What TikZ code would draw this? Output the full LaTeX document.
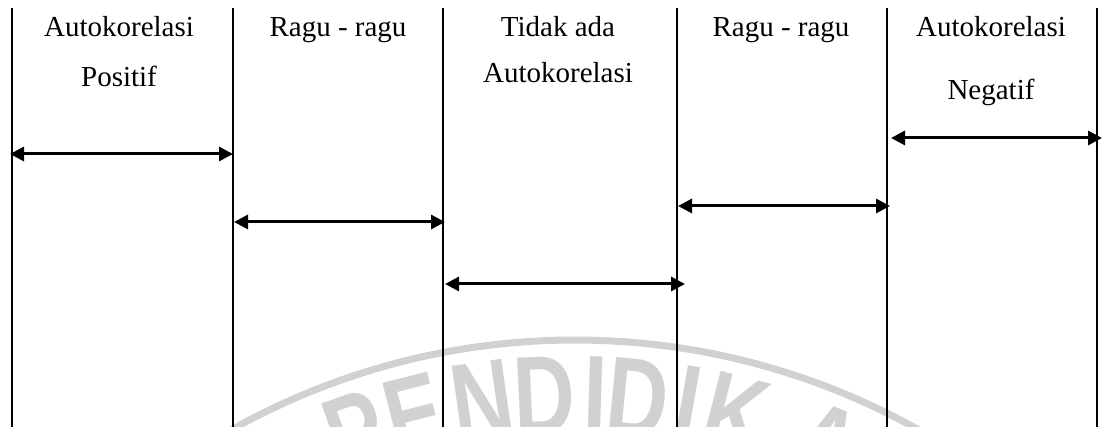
\documentclass[tikz,border=0pt]{standalone}
\usepackage{fontspec}
\setmainfont{Liberation Serif}
\newfontfamily\wmfont{Liberation Sans}
\usetikzlibrary{arrows.meta}
\begin{document}
\begin{tikzpicture}[x=1pt,y=1pt,
  divider/.style={line width=2.4pt},
  rangearrow/.style={line width=3pt,
    {Triangle[length=14pt,width=14pt]}-{Triangle[length=14pt,width=14pt]}},
  headtext/.style={font=\fontsize{29}{29}\selectfont, inner sep=0pt, anchor=base},
  wmletter/.style={text=black!18, font=\wmfont\bfseries\fontsize{112}{112}\selectfont,
    inner sep=0pt, anchor=north, xscale=0.76},
]
\useasboundingbox (0,0) rectangle (1102,427);

% faint seal lettering in the background
\begin{scope}
  \clip (0,0) rectangle (1102,427);
  \begin{scope}[shift={(575,-615)}]
    \draw[black!18, line width=7pt] (125:702) arc[start angle=125, end angle=55, radius=702];
    \foreach \ang/\ch [count=\i] in {-19.8/P,-14.4/E,-8.2/N,-2.7/D,1.8/I,5.6/D,10.0/I,14.4/K,22.8/A,29/N}
      \path (90-\ang:686) node[rotate=-\ang, wmletter] (w\i) {\ch};
  \end{scope}
\end{scope}

% column dividers
\foreach \x [count=\i] in {12,233,443,677,887,1097}{
  \coordinate (v\i t) at (\x,419);
  \coordinate (v\i b) at (\x,0);
  \draw[divider] (v\i t) -- (v\i b);
}

% column headings
\node[headtext] (h1a) at (119,390) {Autokorelasi};
\node[headtext] (h1b) at (119,340) {Positif};
\node[headtext] (h2a) at (338,390) {Ragu - ragu};
\node[headtext] (h3a) at (558,390) {Tidak ada};
\node[headtext] (h3b) at (558,344) {Autokorelasi};
\node[headtext] (h4a) at (781,390) {Ragu - ragu};
\node[headtext] (h5a) at (991,390) {Autokorelasi};
\node[headtext] (h5b) at (991,327) {Negatif};

% range arrows
\coordinate (a1l) at (10,273);   \coordinate (a1r) at (233,273);
\coordinate (a2l) at (234,205);  \coordinate (a2r) at (445,205);
\coordinate (a3l) at (445,143);  \coordinate (a3r) at (685,143);
\coordinate (a4l) at (678,221);  \coordinate (a4r) at (890,221);
\coordinate (a5l) at (891,289);  \coordinate (a5r) at (1102,289);
\foreach \k in {1,...,5}
  \draw[rangearrow] (a\k l) -- (a\k r);
\end{tikzpicture}
\end{document}
